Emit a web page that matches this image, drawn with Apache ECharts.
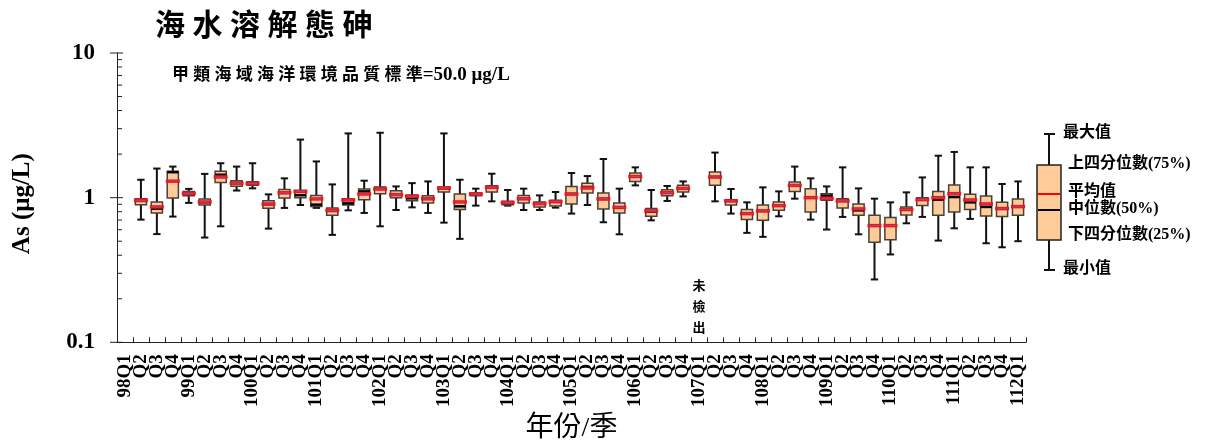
<!DOCTYPE html>
<html>
<head>
<meta charset="utf-8">
<script src="https://cdn.jsdelivr.net/npm/echarts@6/dist/echarts.min.js"></script>
<style>
html,body{margin:0;padding:0;background:#fff;}
#chart{width:1207px;height:448px;}
</style>
</head>
<body>
<div id="chart"></div>
<script>
// ---- data ----
const years = ['98','99','100','101','102','103','104','105','106','107','108','109','110','111','112'];
const quarters = ['Q1','Q2','Q3','Q4'];
const yTickLabels = [0.1, 1, 10];
const yMinorTicks = [0.2,0.3,0.4,0.5,0.6,0.7,0.8,0.9,2,3,4,5,6,7,8,9];
const notDetectedCategory = '107Q1';

// per-category statistics (null = no box)
const maxVals = [null,1.33,1.59,1.64,1.15,1.46,1.73,1.64,1.73,1.054,1.36,2.52,1.78,1.235,2.78,1.31,2.81,1.196,1.26,1.295,2.78,1.33,1.154,1.464,1.13,1.154,1.037,1.094,1.48,1.41,1.85,1.154,1.62,1.13,1.204,1.295,null,2.05,1.148,0.928,1.178,1.105,1.64,1.36,1.196,1.62,1.159,0.984,0.928,1.088,1.38,1.95,2.07,1.62,1.62,1.243,1.295];
const q3Vals  = [null,0.984,0.934,1.52,1.105,0.98,1.52,1.31,1.29,0.953,1.14,1.12,1.037,0.849,0.984,1.148,1.185,1.117,1.044,1.03,1.185,1.06,1.077,1.21,0.943,1.037,0.934,0.958,1.196,1.26,1.077,0.919,1.48,0.84,1.135,1.216,null,1.504,0.969,0.827,0.89,0.934,1.283,1.154,1.066,0.984,0.905,0.755,0.728,0.863,1.0,1.105,1.223,1.054,1.027,0.928,0.98];
const medVals = [null,0.95,0.84,1.50,1.07,0.93,1.44,1.26,1.25,0.90,1.08,1.04,0.895,0.81,0.913,1.105,1.15,1.05,0.99,0.98,1.16,0.871,1.06,1.18,0.92,0.98,0.91,0.94,1.06,1.185,0.98,0.857,1.40,0.80,1.08,1.16,null,1.39,0.95,0.78,0.81,0.88,1.216,1.0,1.032,0.95,0.817,0.641,0.641,0.827,0.969,0.969,1.01,0.928,0.863,0.84,0.867];
const q1Vals  = [null,0.895,0.784,0.995,1.03,0.89,1.275,1.197,1.22,0.844,0.995,1.0,0.87,0.755,0.89,0.969,1.066,1.0,0.953,0.92,1.094,0.827,1.032,1.094,0.895,0.92,0.863,0.876,0.905,1.077,0.836,0.784,1.295,0.743,1.032,1.094,null,1.216,0.89,0.705,0.697,0.817,1.105,0.797,0.958,0.849,0.755,0.492,0.511,0.76,0.881,0.755,0.797,0.827,0.748,0.74,0.755];
const minVals = [null,0.705,0.56,0.74,0.92,0.53,0.634,1.12,1.16,0.611,0.849,0.89,0.85,0.553,0.817,0.784,0.634,0.822,0.857,0.784,0.672,0.519,0.881,0.943,0.881,0.822,0.822,0.853,0.776,0.89,0.676,0.558,1.216,0.697,0.949,1.02,null,0.943,0.776,0.571,0.536,0.743,0.984,0.705,0.602,0.736,0.558,0.272,0.405,0.665,0.736,0.505,0.614,0.713,0.484,0.454,0.5];
const meanVals= [null,0.958,0.863,1.30,1.07,0.934,1.39,1.26,1.255,0.905,1.08,1.105,0.98,0.817,0.964,1.06,1.148,1.049,1.02,0.984,1.167,0.934,1.06,1.178,0.924,0.984,0.909,0.938,1.06,1.167,0.98,0.857,1.40,0.81,1.083,1.159,null,1.39,0.949,0.776,0.81,0.881,1.216,1.0,0.99,0.949,0.836,0.641,0.641,0.827,0.969,1.0,1.066,0.964,0.905,0.84,0.867];

// ---- build categories ----
const categories = [];
years.forEach(y => {
  quarters.forEach(q => {
    if (y === '112' && q !== 'Q1') return;
    categories.push(y + q);
  });
});

const boxData = [];
categories.forEach((c, i) => {
  if (maxVals[i] == null) return;
  boxData.push([i, minVals[i], q1Vals[i], medVals[i], q3Vals[i], maxVals[i], meanVals[i]]);
});
const tickData = yTickLabels.map(v => [0, v, 1]).concat(yMinorTicks.map(v => [0, v, 0]));

const SERIF = '"Liberation Serif", "Times New Roman", "Noto Sans CJK TC", serif';
const CJK = '"Liberation Serif", "Noto Sans CJK TC", serif';

const chart = echarts.init(document.getElementById('chart'), null, {renderer: 'canvas'});

function renderBox(params, api) {
  const i = api.value(0);
  const bw = api.size([1, 0])[0];
  const x = api.coord([i, 1])[0];
  const yMin = api.coord([i, api.value(1)])[1];
  const yQ1 = api.coord([i, api.value(2)])[1];
  const yMed = api.coord([i, api.value(3)])[1];
  const yQ3 = api.coord([i, api.value(4)])[1];
  const yMax = api.coord([i, api.value(5)])[1];
  const yMean = api.coord([i, api.value(6)])[1];
  const boxW = bw * 0.70, capW = bw * 0.46, meanW = bw * 0.88;
  const ls = {stroke: '#111', lineWidth: 2};
  return {
    type: 'group',
    children: [
      {type: 'line', shape: {x1: x, y1: yMax, x2: x, y2: yQ3}, style: ls},
      {type: 'line', shape: {x1: x, y1: yQ1, x2: x, y2: yMin}, style: ls},
      {type: 'line', shape: {x1: x - capW / 2, y1: yMax, x2: x + capW / 2, y2: yMax}, style: ls},
      {type: 'line', shape: {x1: x - capW / 2, y1: yMin, x2: x + capW / 2, y2: yMin}, style: ls},
      {type: 'rect', shape: {x: x - boxW / 2, y: yQ3, width: boxW, height: Math.max(1, yQ1 - yQ3)},
        style: {fill: '#FFCC99', stroke: '#4a4038', lineWidth: 1.5}},
      {type: 'line', shape: {x1: x - boxW / 2, y1: yMed, x2: x + boxW / 2, y2: yMed}, style: {stroke: '#000', lineWidth: 2.5}},
      {type: 'line', shape: {x1: x - meanW / 2, y1: yMean, x2: x + meanW / 2, y2: yMean}, style: {stroke: '#FF1010', lineWidth: 3.5}},
      {type: 'line', shape: {x1: x - boxW / 2 + 1, y1: yMean, x2: x + boxW / 2 - 1, y2: yMean}, style: {stroke: '#7a5aa8', lineWidth: 1}}
    ]
  };
}

function renderTick(params, api) {
  const y = api.coord([0, api.value(1)])[1];
  const x0 = params.coordSys.x;
  const major = api.value(2) === 1;
  return {
    type: 'line',
    shape: {x1: major ? x0 - 7 : x0, y1: y, x2: x0 + (major ? 6 : 5), y2: y},
    style: {stroke: '#222', lineWidth: 1}
  };
}

const LF = 'bold 16px ' + CJK;

const option = {
  animation: false,
  backgroundColor: '#fff',
  title: {
    text: '海 水 溶 解 態 砷',
    left: 150, top: 7,
    textStyle: {fontFamily: CJK, fontSize: 30, fontWeight: 'bold', color: '#000'}
  },
  grid: {left: 117, right: 181, top: 53, bottom: 105, containLabel: false},
  xAxis: {
    type: 'category',
    data: categories,
    boundaryGap: true,
    name: '年份/季',
    nameLocation: 'middle',
    nameGap: 70,
    nameTextStyle: {fontFamily: CJK, fontSize: 28, color: '#000'},
    axisLine: {lineStyle: {color: '#222', width: 1}},
    axisTick: {show: true, inside: true, length: 5, interval: 0, lineStyle: {color: '#222'}},
    axisLabel: {
      interval: 0, rotate: 90, margin: 12,
      fontFamily: SERIF, fontSize: 19, fontWeight: 'bold', color: '#000',
      formatter: v => v.endsWith('Q1') ? v : v.replace(/^\d+/, '')
    },
    splitLine: {show: false}
  },
  yAxis: {
    type: 'log',
    logBase: 10,
    min: 0.1, max: 10,
    name: 'As (μg/L)',
    nameLocation: 'middle',
    nameGap: 82,
    nameTextStyle: {fontFamily: SERIF, fontSize: 25, fontWeight: 'bold', color: '#000', padding: [0, 12, 0, 0]},
    axisLine: {show: true, lineStyle: {color: '#222', width: 1}},
    axisTick: {show: false},
    minorTick: {show: false},
    splitLine: {show: false},
    axisLabel: {
      margin: 22,
      fontFamily: SERIF, fontSize: 23, fontWeight: 'bold', color: '#000',
      formatter: v => (v >= 1 ? String(Math.round(v)) : (Math.round(v * 10) / 10).toFixed(1))
    }
  },
  series: [
    {
      type: 'custom', name: 'box',
      renderItem: renderBox,
      data: boxData,
      encode: {x: 0, y: [1, 2, 3, 4, 5, 6]},
      clip: false, z: 3
    },
    {
      type: 'custom', name: 'ticks',
      renderItem: renderTick,
      data: tickData,
      encode: {x: 0, y: 1},
      clip: false, silent: true, z: 2
    }
  ],
  graphic: [
    {
      type: 'text', left: 172, top: 66,
      style: {
        text: '{c|甲 類 海 域 海 洋 環 境 品 質 標 準}{l|=50.0 μg/L}',
        rich: {
          c: {fontFamily: CJK, fontSize: 17, fontWeight: 'bold', fill: '#000'},
          l: {fontFamily: SERIF, fontSize: 19, fontWeight: 'bold', fill: '#000'}
        }
      }
    },
    // legend box
    {type: 'line', shape: {x1: 1049, y1: 134, x2: 1049, y2: 165}, style: {stroke: '#111', lineWidth: 2}},
    {type: 'line', shape: {x1: 1049, y1: 240, x2: 1049, y2: 270}, style: {stroke: '#111', lineWidth: 2}},
    {type: 'line', shape: {x1: 1044, y1: 134, x2: 1055, y2: 134}, style: {stroke: '#111', lineWidth: 2}},
    {type: 'line', shape: {x1: 1044, y1: 270, x2: 1055, y2: 270}, style: {stroke: '#111', lineWidth: 2}},
    {type: 'rect', shape: {x: 1037, y: 165, width: 24, height: 75}, style: {fill: '#FFCC99', stroke: '#222', lineWidth: 1.5}},
    {type: 'line', shape: {x1: 1038, y1: 194, x2: 1060, y2: 194}, style: {stroke: '#FF0000', lineWidth: 2}},
    {type: 'line', shape: {x1: 1038, y1: 210, x2: 1060, y2: 210}, style: {stroke: '#000', lineWidth: 2}},
    {type: 'text', left: 1063, top: 125, style: {text: '最大值', font: LF, fill: '#000'}},
    {type: 'text', left: 1068, top: 156, style: {text: '上四分位數(75%)', font: LF, fill: '#000'}},
    {type: 'text', left: 1068, top: 184, style: {text: '平均值', font: LF, fill: '#000'}},
    {type: 'text', left: 1068, top: 201, style: {text: '中位數(50%)', font: LF, fill: '#000'}},
    {type: 'text', left: 1068, top: 227, style: {text: '下四分位數(25%)', font: LF, fill: '#000'}},
    {type: 'text', left: 1063, top: 261, style: {text: '最小值', font: LF, fill: '#000'}}
  ]
};
chart.setOption(option);

// "未檢出" annotation placed at the not-detected category
const ndX = chart.convertToPixel({xAxisIndex: 0}, notDetectedCategory);
chart.setOption({
  graphic: option.graphic.concat([{
    type: 'text', x: ndX, y: 276,
    style: {text: '未\n檢\n出', font: 'bold 13px ' + CJK, fill: '#000', align: 'center', lineHeight: 21}
  }])
});
</script>
</body>
</html>
